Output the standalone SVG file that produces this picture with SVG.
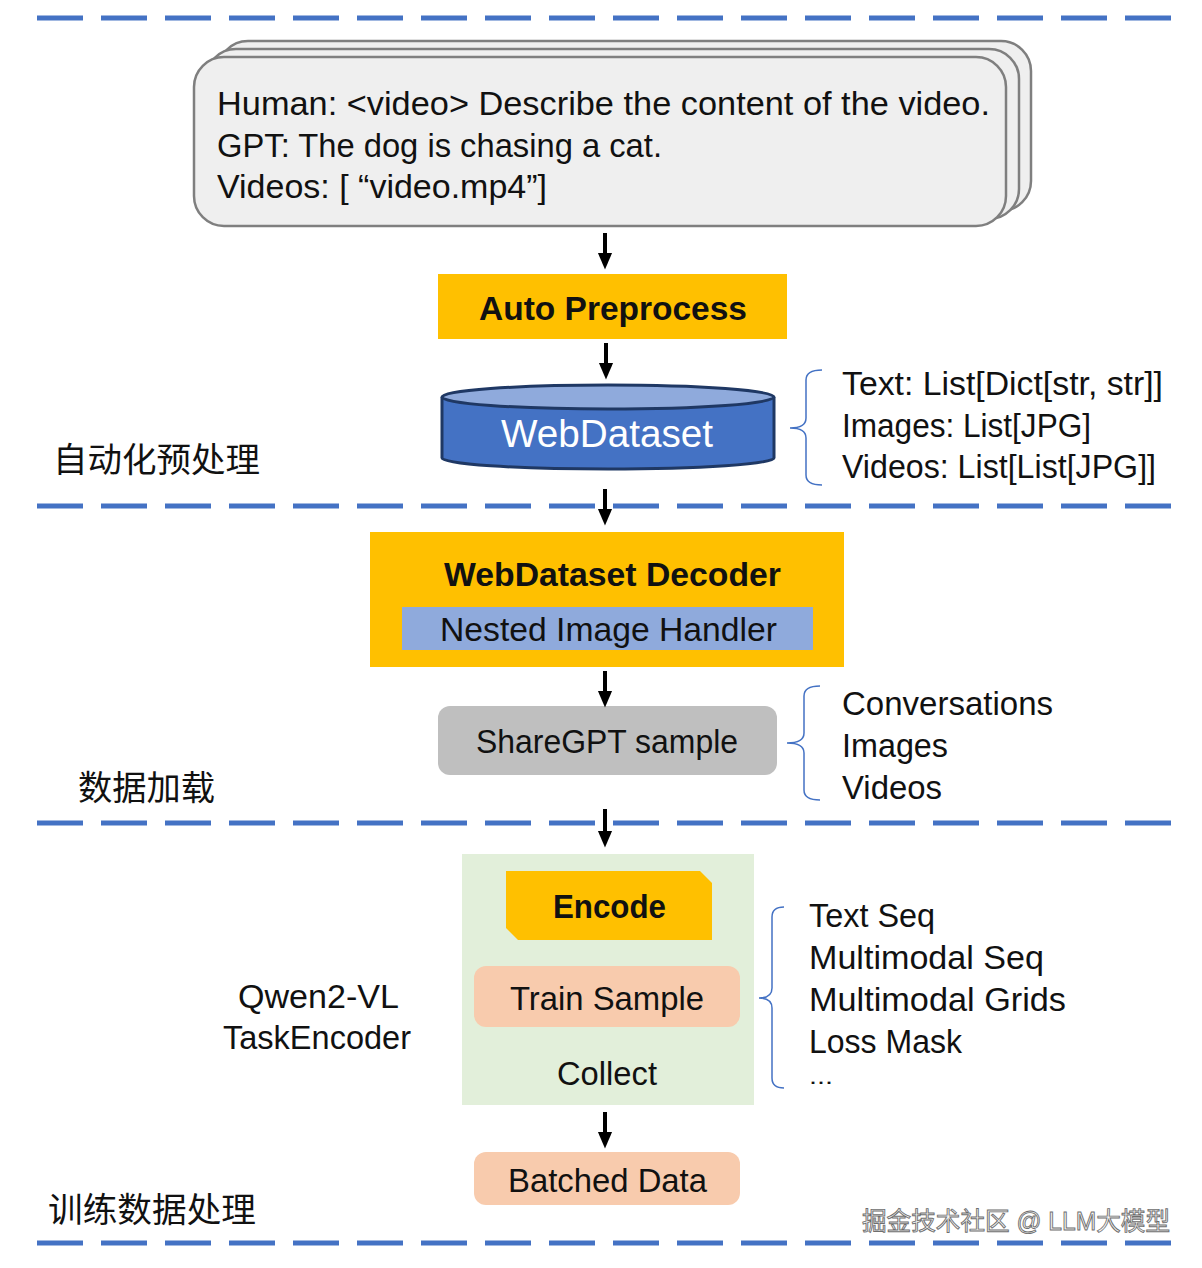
<svg xmlns="http://www.w3.org/2000/svg" width="1202" height="1268" viewBox="0 0 1202 1268">
<defs>
<marker id="ah" markerWidth="17" markerHeight="17" refX="7" refY="6" orient="auto" markerUnits="userSpaceOnUse" viewBox="0 0 14 12">
<path d="M0,0 L14,6 L0,12 Z" fill="#000"/>
</marker>
<style>
text{font-family:"Liberation Sans","Noto Sans CJK SC",sans-serif;fill:#111;}
.t{font-size:33px;}
.b{font-size:34px;font-weight:bold;}
.cn{font-size:34px;}
.dash{stroke:#4472C4;stroke-width:5;stroke-dasharray:46 18;fill:none;}
.arr{stroke:#000;stroke-width:4;fill:none;}
.brace{stroke:#4472C4;stroke-width:1.5;fill:none;}
.doc{fill:#EFEFEF;stroke:#7F7F7F;stroke-width:2.5;}
</style>
</defs>
<rect width="1202" height="1268" fill="#fff"/>
<g id="separators">
<line class="dash" x1="37" y1="18" x2="1176" y2="18"/>
<line class="dash" x1="37" y1="506" x2="1176" y2="506"/>
<line class="dash" x1="37" y1="823" x2="1176" y2="823"/>
<line class="dash" x1="37" y1="1243" x2="1176" y2="1243"/>
</g>
<g id="input-doc">
<rect class="doc" x="218" y="41" width="813" height="170" rx="30"/>
<rect class="doc" x="206" y="49" width="813" height="170" rx="30"/>
<rect class="doc" x="194" y="57" width="812" height="169" rx="30"/>
<text class="t" x="217" y="115" textLength="773" lengthAdjust="spacingAndGlyphs">Human: &lt;video&gt; Describe the content of the video.</text>
<text class="t" x="217" y="157" textLength="445" lengthAdjust="spacingAndGlyphs">GPT: The dog is chasing a cat.</text>
<text class="t" x="217" y="198" textLength="330" lengthAdjust="spacingAndGlyphs">Videos: [ “video.mp4”]</text>
</g>
<g id="auto-preprocess">
<rect x="438" y="274" width="349" height="65" fill="#FFC000"/>
<text class="b" x="479" y="320" textLength="268" lengthAdjust="spacingAndGlyphs">Auto Preprocess</text>
</g>
<g id="webdataset">
<path d="M442,397 L442,458 A166,11 0 0 0 774,458 L774,397" fill="#4472C4" stroke="#1F3864" stroke-width="3"/>
<ellipse cx="608" cy="397" rx="166" ry="12" fill="#8FAADC" stroke="#1F3864" stroke-width="3"/>
<text x="501" y="447" style="font-size:38px;fill:#fff" textLength="212" lengthAdjust="spacingAndGlyphs">WebDataset</text>
</g>
<g id="webdataset-types">
<path class="brace" d="M822,370 Q806,370 806,380 L806,418 Q806,428 790,428 Q806,428 806,438 L806,475 Q806,485 822,485"/>
<text class="t" x="842" y="395" textLength="321" lengthAdjust="spacingAndGlyphs">Text: List[Dict[str, str]]</text>
<text class="t" x="842" y="437" textLength="249" lengthAdjust="spacingAndGlyphs">Images: List[JPG]</text>
<text class="t" x="842" y="478" textLength="314" lengthAdjust="spacingAndGlyphs">Videos: List[List[JPG]]</text>
</g>
<g id="label-auto">
<text class="cn" x="53" y="472" textLength="207" lengthAdjust="spacingAndGlyphs">自动化预处理</text>
</g>
<g id="decoder">
<rect x="370" y="532" width="474" height="135" fill="#FFC000"/>
<text class="b" x="444" y="586" textLength="337" lengthAdjust="spacingAndGlyphs">WebDataset Decoder</text>
<rect x="402" y="607" width="411" height="43" fill="#8FAADC"/>
<text class="t" x="440" y="641" textLength="337" lengthAdjust="spacingAndGlyphs">Nested Image Handler</text>
</g>
<g id="sharegpt">
<rect x="438" y="706" width="339" height="69" rx="12" fill="#BFBFBF"/>
<text class="t" x="476" y="753" textLength="262" lengthAdjust="spacingAndGlyphs">ShareGPT sample</text>
</g>
<g id="sharegpt-fields">
<path class="brace" d="M820,686 Q804,686 804,696 L804,733 Q804,743 787,743 Q804,743 804,753 L804,790 Q804,800 820,800"/>
<text class="t" x="842" y="715" textLength="211" lengthAdjust="spacingAndGlyphs">Conversations</text>
<text class="t" x="842" y="757" textLength="106" lengthAdjust="spacingAndGlyphs">Images</text>
<text class="t" x="842" y="799" textLength="100" lengthAdjust="spacingAndGlyphs">Videos</text>
</g>
<g id="label-load">
<text class="cn" x="78" y="800" textLength="137" lengthAdjust="spacingAndGlyphs">数据加载</text>
</g>
<g id="task-encoder">
<rect x="462" y="854" width="292" height="251" fill="#E2EFDA"/>
<path d="M506,871 L700,871 L712,883 L712,940 L518,940 L506,928 Z" fill="#FFC000"/>
<text class="b" x="553" y="918" textLength="113" lengthAdjust="spacingAndGlyphs">Encode</text>
<rect x="474" y="966" width="266" height="61" rx="12" fill="#F8CBAD"/>
<text class="t" x="510" y="1010" textLength="194" lengthAdjust="spacingAndGlyphs">Train Sample</text>
<text class="t" x="557" y="1085" textLength="100" lengthAdjust="spacingAndGlyphs">Collect</text>
</g>
<g id="encoder-label">
<text class="t" x="238" y="1008" textLength="161" lengthAdjust="spacingAndGlyphs">Qwen2-VL</text>
<text class="t" x="223" y="1049" textLength="188" lengthAdjust="spacingAndGlyphs">TaskEncoder</text>
</g>
<g id="sample-fields">
<path class="brace" d="M784,907 Q772,907 772,917 L772,988 Q772,998 759,998 Q772,998 772,1008 L772,1078 Q772,1088 784,1088"/>
<text class="t" x="809" y="927" textLength="126" lengthAdjust="spacingAndGlyphs">Text Seq</text>
<text class="t" x="809" y="969" textLength="235" lengthAdjust="spacingAndGlyphs">Multimodal Seq</text>
<text class="t" x="809" y="1011" textLength="257" lengthAdjust="spacingAndGlyphs">Multimodal Grids</text>
<text class="t" x="809" y="1053" textLength="153" lengthAdjust="spacingAndGlyphs">Loss Mask</text>
<text x="809" y="1084" style="font-size:22px" textLength="24" lengthAdjust="spacingAndGlyphs">...</text>
</g>
<g id="batched">
<rect x="474" y="1152" width="266" height="53" rx="12" fill="#F8CBAD"/>
<text class="t" x="508" y="1192" textLength="199" lengthAdjust="spacingAndGlyphs">Batched Data</text>
</g>
<g id="label-train">
<text class="cn" x="48" y="1222" textLength="208" lengthAdjust="spacingAndGlyphs">训练数据处理</text>
</g>
<g id="connectors">
<line class="arr" x1="605" y1="233" x2="605" y2="261" marker-end="url(#ah)"/>
<line class="arr" x1="606" y1="343" x2="606" y2="371" marker-end="url(#ah)"/>
<line class="arr" x1="605" y1="489" x2="605" y2="517" marker-end="url(#ah)"/>
<line class="arr" x1="605" y1="671" x2="605" y2="699" marker-end="url(#ah)"/>
<line class="arr" x1="605" y1="809" x2="605" y2="839" marker-end="url(#ah)"/>
<line class="arr" x1="605" y1="1112" x2="605" y2="1140" marker-end="url(#ah)"/>
</g>
<g id="watermark">
<text x="862" y="1230" style="font-size:25px;fill:#f4f4f4;stroke:#6e6e6e;stroke-width:0.9" textLength="308" lengthAdjust="spacingAndGlyphs">掘金技术社区 @ LLM大模型</text>
</g>
</svg>
